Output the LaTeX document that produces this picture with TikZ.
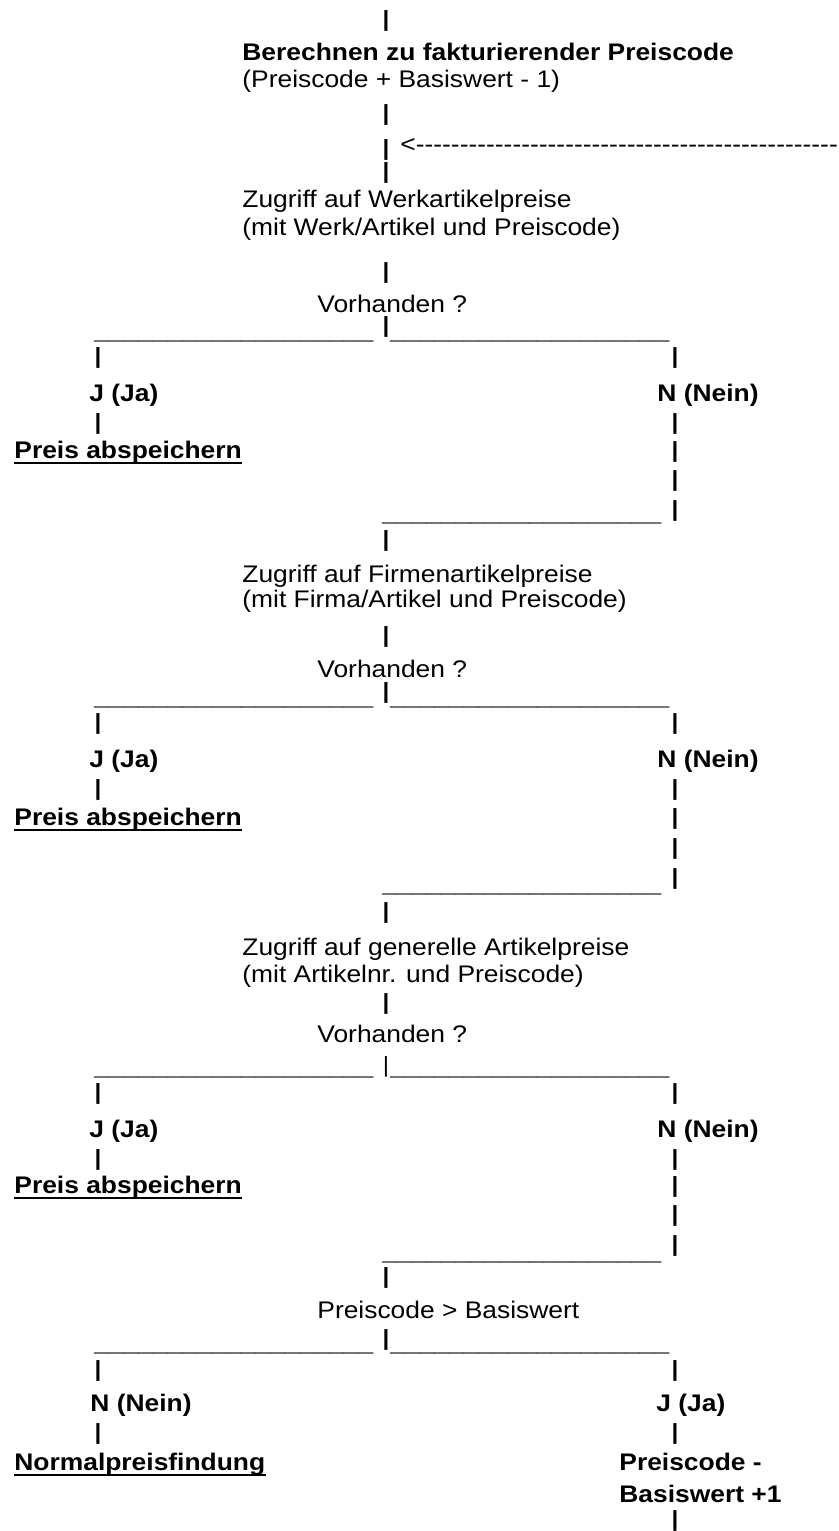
\documentclass[tikz,border=0pt]{standalone}
\usepackage{fontspec}
\setmainfont[FakeStretch=1.1]{Liberation Sans}
\usepackage{tikz}
\usetikzlibrary{positioning}
\newcommand{\usrun}{\foreach \k in {1,...,19}{\_}}
\newcommand{\hyrun}{\foreach \k in {1,...,48}{-}}

\begin{document}
\begin{tikzpicture}[x=0.5pt,y=-0.5pt,
  txt/.style={anchor=base west,inner sep=0pt,font=\fontsize{12}{14}\selectfont},
  btxt/.style={txt,font=\fontsize{12}{14}\selectfont\bfseries},
  usc/.style={txt,text=black!70},
  bar/.style={inner sep=0pt,font=\fontsize{11}{13}\selectfont\bfseries},
  thinbar/.style={bar,font=\fontsize{11}{13}\selectfont},
  uline/.style={line width=1pt}]
\useasboundingbox (0,0) rectangle (839,1531);
% top block
\node[bar] (c0) at (386,21) {|};
\node[btxt] (calc) at (242,60) {Berechnen zu fakturierender Preiscode};
\node[txt] (calcf) at (242,87) {(Preiscode + Basiswert - 1)};
\foreach \y/\n in {114.5/1,149.5/2,172.5/3}{
  \node[bar] (c\n) at (386,\y) {|};
}
\node[txt] (back) at (400,152) {<\hyrun};
% Werkartikelpreise
\node[txt] (werk) at (242,207) {Zugriff auf Werkartikelpreise};
\node[txt] (werkm) at (242,235) {(mit Werk/Artikel und Preiscode)};
\node[bar] (c4) at (386,272.5) {|};
\node[txt] (q1) at (317,312) {Vorhanden ?};
\node[bar] (c5) at (386,327) {|};
\node[usc] (u1l) at (94,337) {\usrun};
\node[usc] (u1r) at (390,337) {\usrun};
\foreach \y/\n in {357.5/1,424/2}{
  \node[bar] (l1\n) at (98,\y) {|};
  \node[bar] (r1\n) at (675,\y) {|};
}
\node[btxt] (j1) at (89,401) {J (Ja)};
\node[btxt] (n1) at (657,401) {N (Nein)};
\node[btxt] (s1) at (14,458) {Preis abspeichern};
\draw[uline] ([yshift=-2.5pt]s1.base west) -- ([yshift=-2.5pt]s1.base east);
\foreach \y/\n in {452/3,481/4,511/5}{
  \node[bar] (r1\n) at (675,\y) {|};
}
\node[usc] (u1b) at (382,519) {\usrun};
\node[bar] (c6) at (386,541) {|};
% Firmenartikelpreise
\node[txt] (firma) at (242,582) {Zugriff auf Firmenartikelpreise};
\node[txt] (firmam) at (242,607) {(mit Firma/Artikel und Preiscode)};
\node[bar] (c7) at (386,637) {|};
\node[txt] (q2) at (317,677) {Vorhanden ?};
\node[bar] (c8) at (386,693) {|};
\node[usc] (u2l) at (94,703) {\usrun};
\node[usc] (u2r) at (390,703) {\usrun};
\foreach \y/\n in {724/1,790/2}{
  \node[bar] (l2\n) at (98,\y) {|};
  \node[bar] (r2\n) at (675,\y) {|};
}
\node[btxt] (j2) at (89,767) {J (Ja)};
\node[btxt] (n2) at (657,767) {N (Nein)};
\node[btxt] (s2) at (14,825) {Preis abspeichern};
\draw[uline] ([yshift=-2.5pt]s2.base west) -- ([yshift=-2.5pt]s2.base east);
\foreach \y/\n in {819/3,849/4,879/5}{
  \node[bar] (r2\n) at (675,\y) {|};
}
\node[usc] (u2b) at (382,890) {\usrun};
\node[bar] (c9) at (386,913) {|};
% generelle Artikelpreise
\node[txt] (gen) at (242,955) {Zugriff auf generelle Artikelpreise};
\node[txt] (genm) at (242,982) {(mit Artikelnr. und Preiscode)};
\node[bar] (c10) at (386,1003.5) {|};
\node[txt] (q3) at (317,1042) {Vorhanden ?};
\node[thinbar] (c11) at (386,1066.5) {|};
\node[usc] (u3l) at (94,1073) {\usrun};
\node[usc] (u3r) at (390,1073) {\usrun};
\foreach \y/\n in {1093.5/1,1160/2}{
  \node[bar] (l3\n) at (98,\y) {|};
  \node[bar] (r3\n) at (675,\y) {|};
}
\node[btxt] (j3) at (89,1137) {J (Ja)};
\node[btxt] (n3) at (657,1137) {N (Nein)};
\node[btxt] (s3) at (14,1193) {Preis abspeichern};
\draw[uline] ([yshift=-2.5pt]s3.base west) -- ([yshift=-2.5pt]s3.base east);
\foreach \y/\n in {1187/3,1216/4,1246/5}{
  \node[bar] (r3\n) at (675,\y) {|};
}
\node[usc] (u3b) at (382,1258) {\usrun};
\node[bar] (c12) at (386,1277.5) {|};
% Preiscode > Basiswert
\node[txt] (q4) at (317,1318) {Preiscode > Basiswert};
\node[bar] (c13) at (386,1340) {|};
\node[usc] (u4l) at (94,1349) {\usrun};
\node[usc] (u4r) at (390,1349) {\usrun};
\foreach \y/\n in {1371/1,1434/2}{
  \node[bar] (l4\n) at (98,\y) {|};
  \node[bar] (r4\n) at (675,\y) {|};
}
\node[btxt] (n4) at (90,1411) {N (Nein)};
\node[btxt] (j4) at (656,1411) {J (Ja)};
\node[btxt] (s4) at (14,1470) {Normalpreisfindung};
\draw[uline] ([yshift=-2.5pt]s4.base west) -- ([yshift=-2.5pt]s4.base east);
\node[btxt] (p4) at (619,1470) {Preiscode -};
\node[btxt] (p4b) at (619,1502) {Basiswert +1};
\node[bar] (r43) at (675,1521) {|};
\end{tikzpicture}
\end{document}
